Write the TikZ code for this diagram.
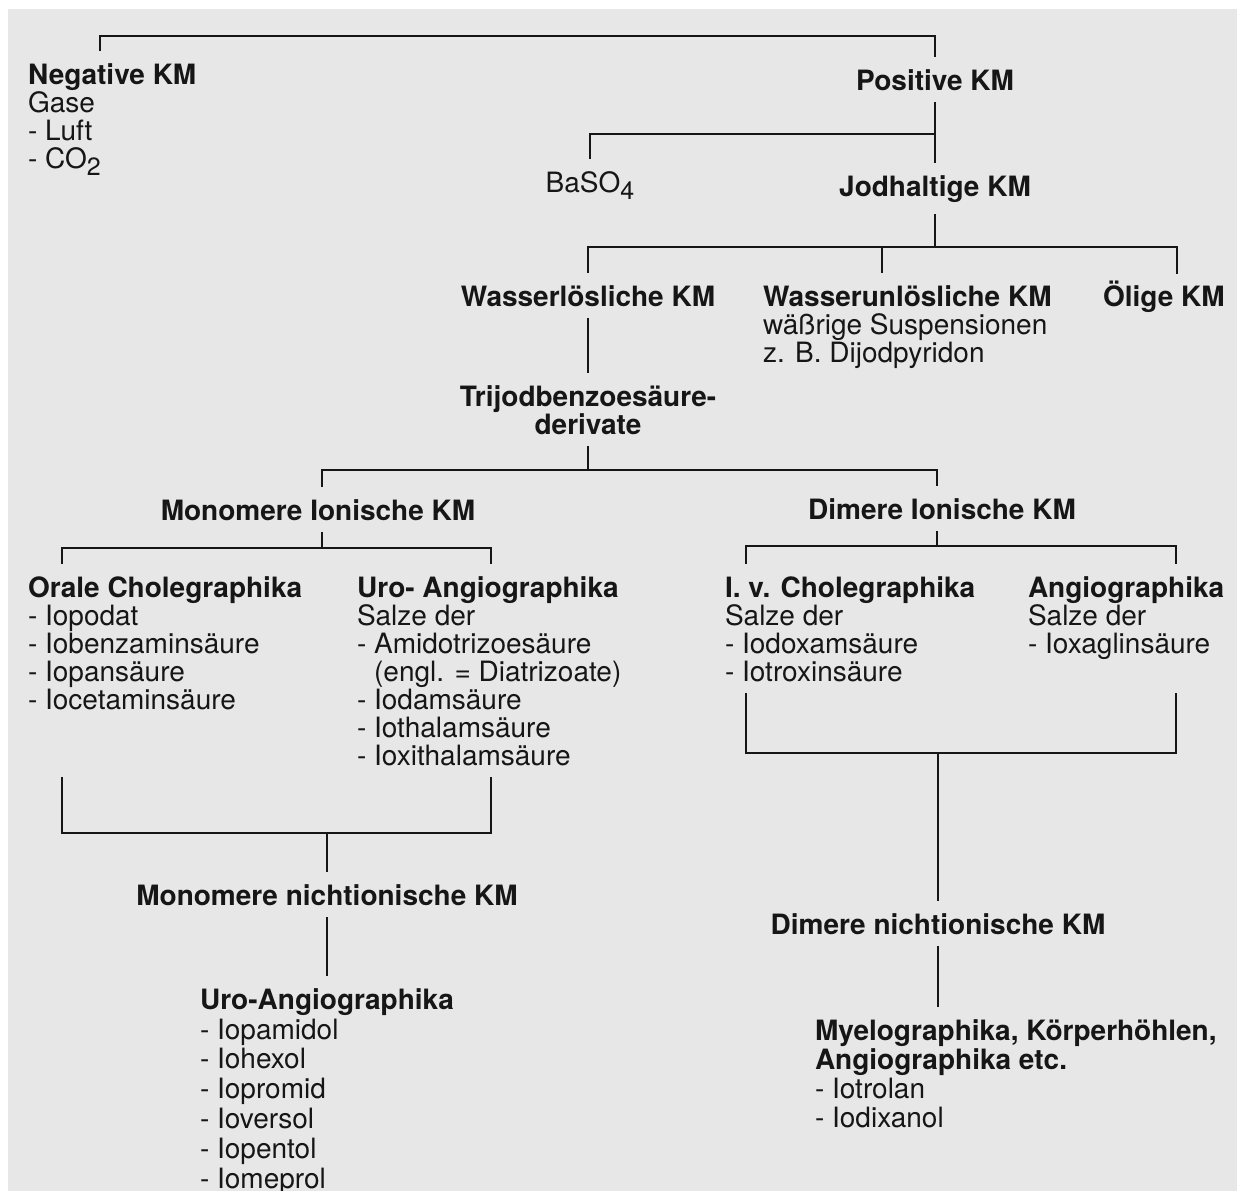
\documentclass[tikz,border=0pt]{standalone}
\usepackage{fontspec}
\setmainfont{TeX Gyre Heros}
\usetikzlibrary{positioning}
\definecolor{paper}{RGB}{231,231,231}
\definecolor{ink}{RGB}{22,22,22}
\newcommand{\lowidx}[1]{\raisebox{-7pt}{\fontsize{25}{25}\selectfont #1}}

\begin{document}
\begin{tikzpicture}[
		x=1pt, y=-1pt,
		every node/.style={font=\fontsize{28}{28}\selectfont, text=ink, inner sep=0pt, outer sep=12pt},
		head/.style={font=\fontsize{28}{28}\selectfont\bfseries, anchor=base},
		entry/.style={align=left, anchor=base west},
		link/.style={draw=ink, line width=2pt},
	]
		\fill[white] (0,0) rectangle (1237,1191);
		\fill[paper] (8,9) rectangle (1237,1191);
		\useasboundingbox (0,0) rectangle (1237,1191);

		\begin{scope}
			\node (neg) [entry] at (16,168) {\textbf{Negative KM}\\Gase\\- Luft\\- CO\lowidx{2}};
			\node (pos) [head] at (935,90) {Positive KM};
			\node (baso) [anchor=base] at (590,192) {BaSO\lowidx{4}};
			\node (jod) [head] at (935,196) {Jodhaltige KM};

			\draw[link] ([xshift=-12pt]neg.north) -- ++(0,-15) -| (pos.north);
			\draw[link] (pos.south) -- (jod.north);
			\draw[link] (baso.north) -- ++(0,-25) -| (pos.south);
		\end{scope}

		\begin{scope}
			\node (wl) [head] at (588,306) {Wasserlösliche KM};
			\node (wu) [entry] at (751,362) {\textbf{Wasserunlösliche KM}\\wäßrige Suspensionen\\z. B. Dijodpyridon};
			\node (oel) [head, anchor=base west, text height=20pt] at (1091,306) {Ölige KM};
			\coordinate (wu leg) at ([xshift=131pt]wu.north west);
			\coordinate (oel leg) at ([xshift=86pt]oel.north west);

			\draw[link] (jod.south) -- ++(0,33) coordinate (jod bar);
			\draw[link] (wl.north) |- (jod bar) -| (oel leg);
			\draw[link] (wu leg) -- (wu leg |- jod bar);
		\end{scope}

		\begin{scope}
			\node (tri) [head, align=center] at (588,434) {Trijodbenzoesäure-\\derivate};
			\node (mio) [head] at (318,520) {Monomere Ionische KM};
			\node (dio) [head] at (942,519) {Dimere Ionische KM};

			\draw[link] (wl.south) -- (tri.north);
			\draw[link] (tri.south) -- ++(0,24) coordinate (tri bar);
			\draw[link] ([xshift=4pt]mio.north) |- (tri bar) -| ([xshift=-5pt]dio.north);
		\end{scope}

		\begin{scope}
			\node (ora) [entry] at (16,709) {\textbf{Orale Cholegraphika}\\- Iopodat\\- Iobenzaminsäure\\- Iopansäure\\- Iocetaminsäure};
			\node (uro) [entry] at (345,765) {\textbf{Uro- Angiographika}\\Salze der\\- Amidotrizoesäure\\\hphantom{- }(engl. = Diatrizoate)\\- Iodamsäure\\- Iothalamsäure\\- Ioxithalamsäure};
			\node (mni) [head] at (327,905) {Monomere nichtionische KM};
			\node (uan) [entry, font=\fontsize{28}{29.8}\selectfont] at (188,1188) {\textbf{Uro-Angiographika}\\- Iopamidol\\- Iohexol\\- Iopromid\\- Ioversol\\- Iopentol\\- Iomeprol};
			\coordinate (ora leg) at ([xshift=46pt]ora.north west);
			\coordinate (uro leg) at ([xshift=146pt]uro.north west);

			\draw[link] ([xshift=4pt]mio.south) -- ++(0,16) coordinate (mio bar);
			\draw[link] (ora leg) |- (mio bar) -| (uro leg);
			\draw[link] (ora leg |- uro.south) -- ++(0,56) coordinate (ora bar) -| (uro.south -| uro leg);
			\draw[link] (ora bar -| mni.north) -- (mni.north);
			\draw[link] (mni.south) -- (mni.south |- uan.north);
		\end{scope}

		\begin{scope}
			\node (ivc) [entry] at (713,681) {\textbf{I. v. Cholegraphika}\\Salze der\\- Iodoxamsäure\\- Iotroxinsäure};
			\node (ang) [entry] at (1016,653) {\textbf{Angiographika}\\Salze der\\- Ioxaglinsäure};
			\node (dni) [head] at (938,934) {Dimere nichtionische KM};
			\node (mye) [entry, font=\fontsize{28}{29}\selectfont] at (803,1127) {\textbf{Myelographika, Körperhöhlen,}\\\textbf{Angiographika etc.}\\- Iotrolan\\- Iodixanol};
			\coordinate (ivc leg) at ([xshift=33pt]ivc.north west);
			\coordinate (ang leg) at ([xshift=160pt]ang.north west);

			\draw[link] ([xshift=-5pt]dio.south) -- ++(0,15) coordinate (dio bar);
			\draw[link] (ivc leg) |- (dio bar) -| (ang leg);
			\draw[link] (ivc.south -| ivc leg) -- ++(0,60) coordinate (ivc bar) -| (ang leg |- ivc.south);
			\draw[link] (ivc bar -| dni.north) -- (dni.north);
			\draw[link] (dni.south) -- (dni.south |- mye.north);
		\end{scope}
	\end{tikzpicture}
\end{document}
